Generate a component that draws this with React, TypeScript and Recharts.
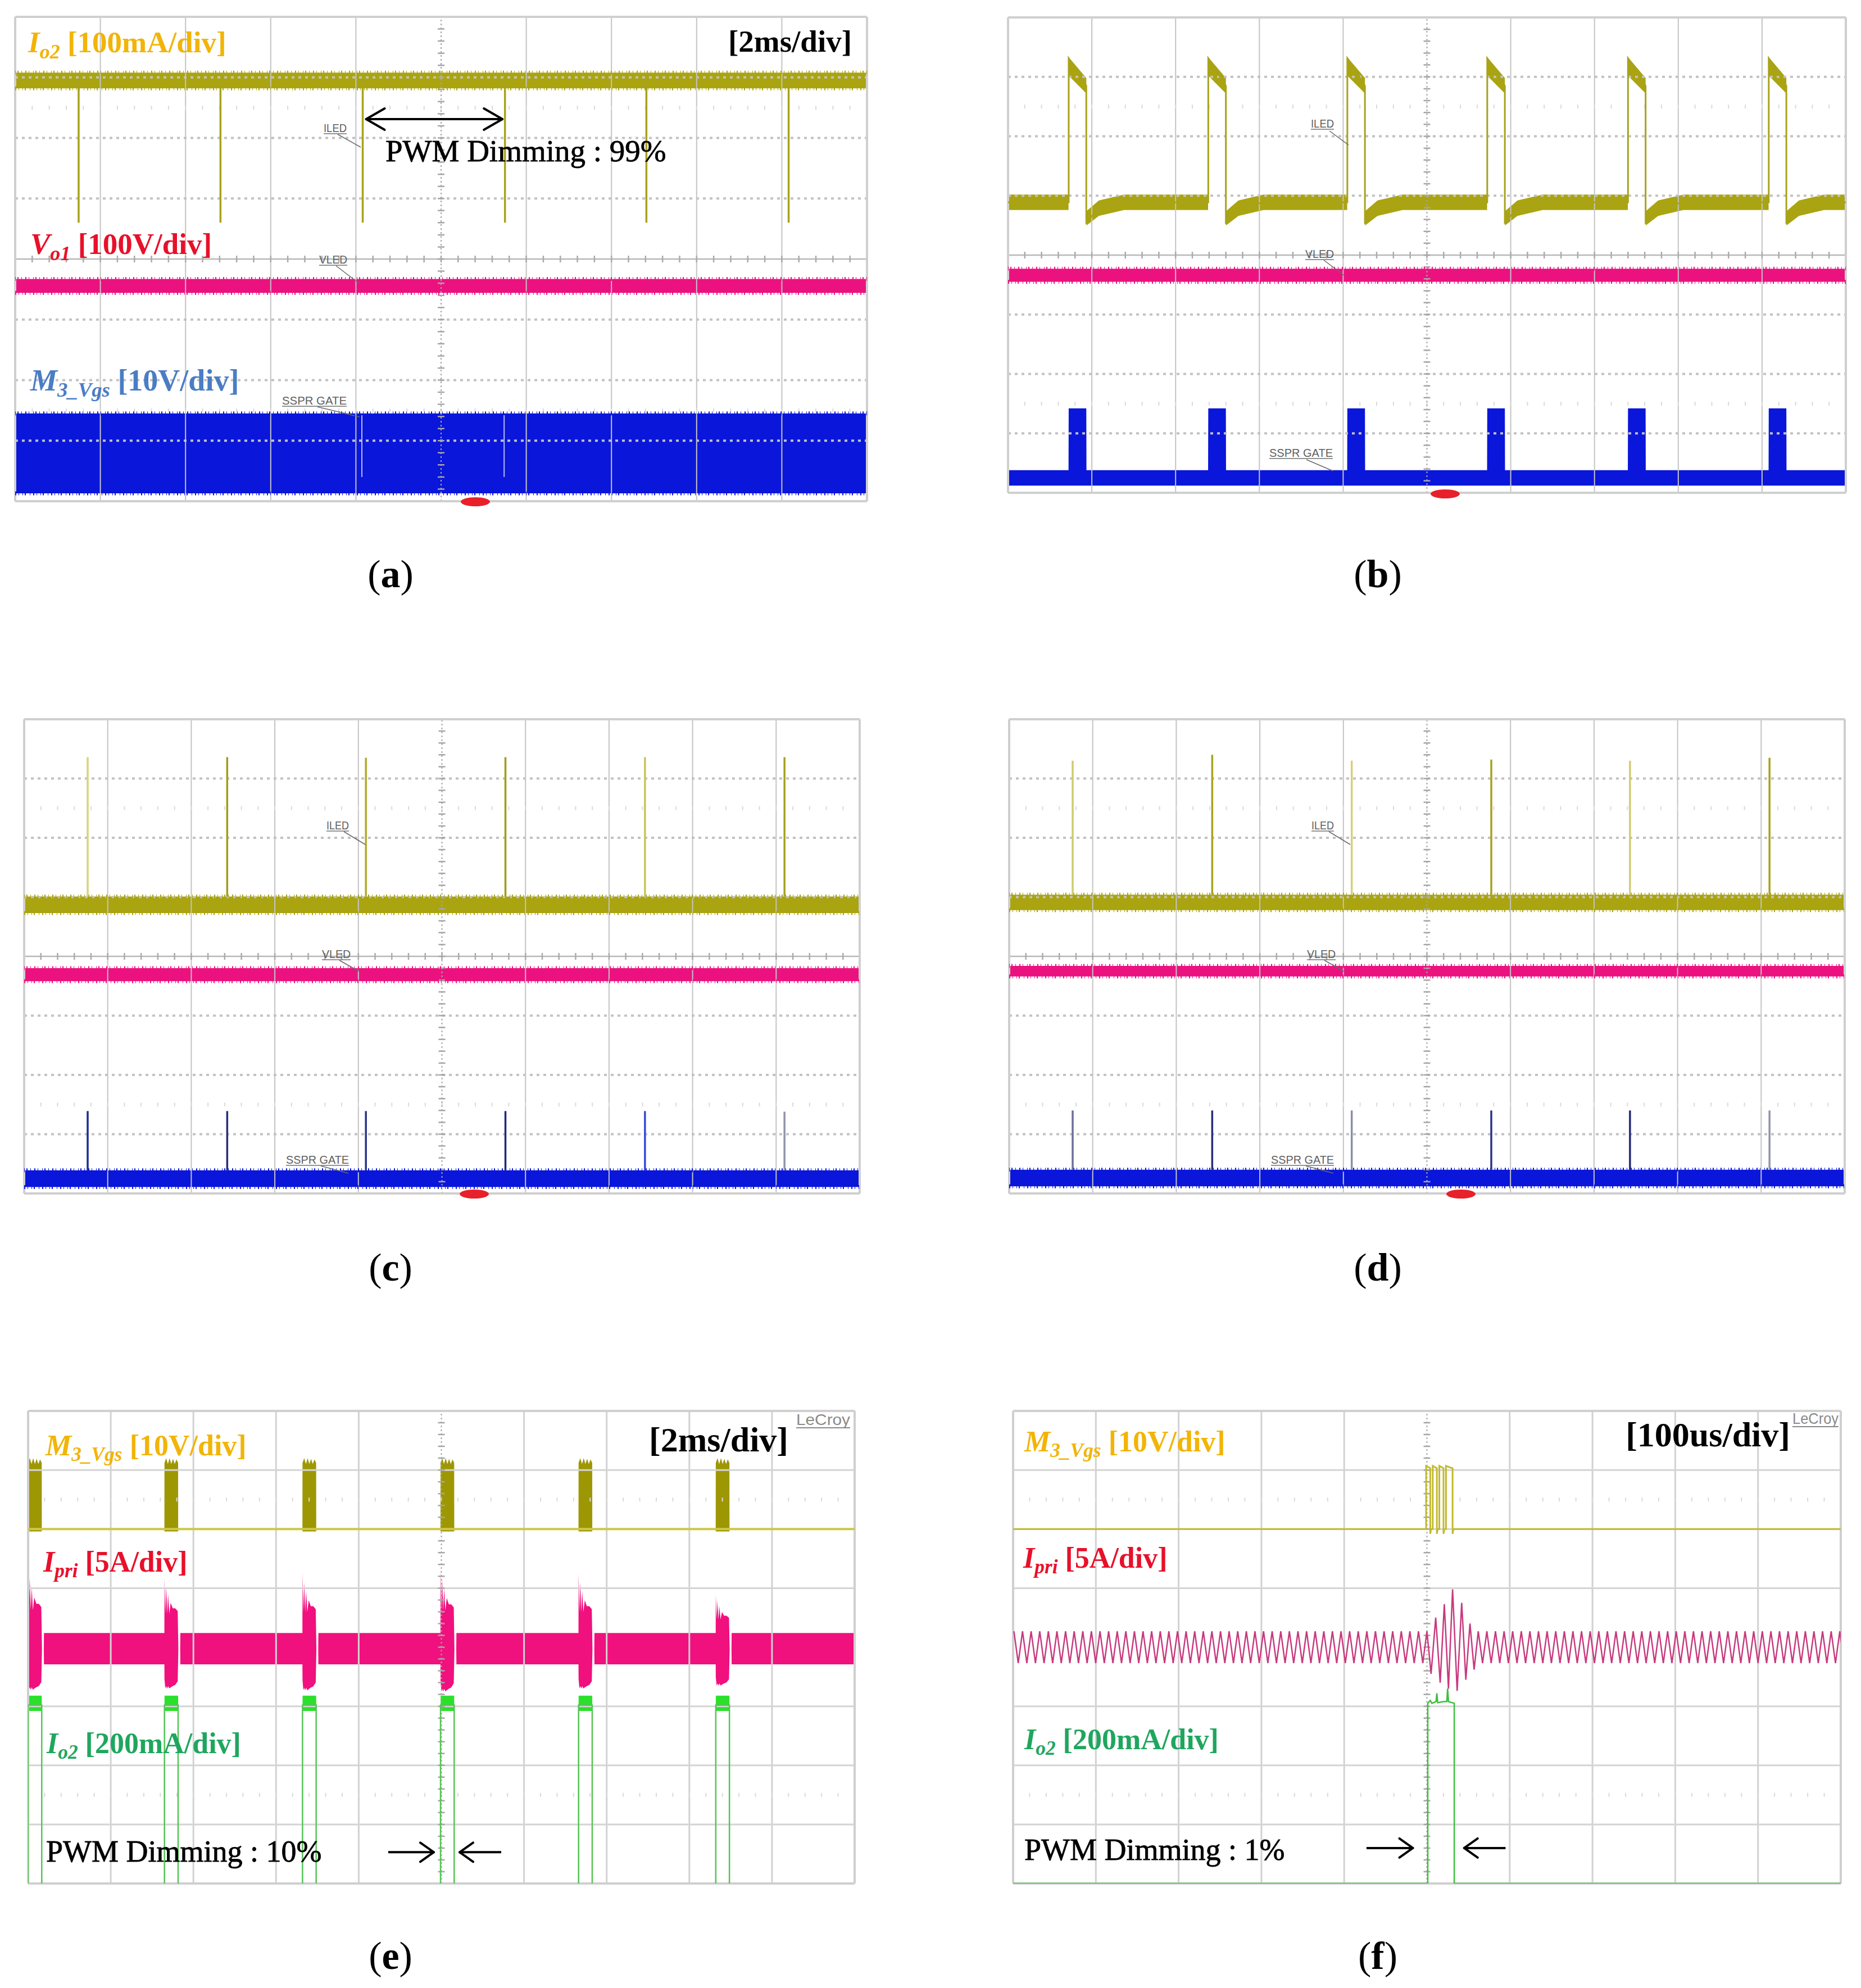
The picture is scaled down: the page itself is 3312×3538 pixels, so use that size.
import React from 'react';
import { ComposedChart, Line, Area, XAxis, YAxis, ReferenceLine } from 'recharts';

/* ============ values (x: 0..10 div, y: 0..8 div) ============ */
// (a) PWM dimming 99 %
const aSpikeX = [0.745, 2.41, 4.08, 5.75, 7.41, 9.08];
const aYellowBand = [6.82, 7.08];
const aYellowLevel = 6.95;
const aYellowSpikeTip = 4.6;
const aPinkBand = [3.44, 3.67];
const aBlueBand = [0.13, 1.45];
const aBlueMarkX = [4.07, 5.74];
const aBlueMarkSpan = [0.4, 1.42];

// (b)
const bPulseX = [0.724, 2.39, 4.05, 5.72, 7.4, 9.08];
const bPulseWidth = 0.21;
const bYellowBase = [4.76, 5.02];
const bYellowTopStart = [7.02, 7.33];
const bYellowTopEnd = [6.72, 6.98];
const bYellowUnder = [4.5, 4.74];
const bYellowRecover = [4.66, 4.92];
const bPinkBand = [3.55, 3.77];
const bBlueBase = [0.12, 0.38];
const bBlueTop = 1.42;

// (c)
const cSpikeX = [0.76, 2.43, 4.09, 5.76, 7.43, 9.1];
const cYellowBand = [4.73, 5.01];
const cYellowTip = [7.36, 7.36, 7.35, 7.36, 7.36, 7.36];
const cPinkBand = [3.58, 3.8];
const cBlueBand = [0.11, 0.39];
const cBlueTip = [1.39, 1.39, 1.39, 1.39, 1.39, 1.38];

// (d)
const dSpikeX = [0.76, 2.43, 4.1, 5.77, 7.43, 9.1];
const dYellowBand = [4.78, 5.04];
const dYellowTip = [7.3, 7.4, 7.3, 7.32, 7.3, 7.35];
const dPinkBand = [3.66, 3.84];
const dBlueBand = [0.12, 0.4];
const dBlueTip = [1.4, 1.4, 1.4, 1.4, 1.4, 1.4];

// (e) PWM dimming 10 %
const eBurstX = [0.0, 1.65, 3.32, 4.99, 6.66, 8.32];
const eBurstWidth = 0.165;
const eYellowLevel = 6.0;
const eYellowCrown = [7.12, 7.2, 7.1, 7.2, 7.1, 7.19, 7.1, 7.18, 7.12];
const ePinkBand = [3.71, 4.24];
const ePinkPeak = [5.34, 5.17, 5.25, 5.32, 5.25, 4.89];
const ePinkLow = [3.28, 3.3, 3.27, 3.25, 3.3, 3.35];
// [offset, fraction of peak above band, fraction of dip below band]
const ePinkBurstShape = [
  [0.0, 1.0, 0.6], [0.01, 0.35, 1.0], [0.02, 0.85, 0.9], [0.032, 0.35, 1.0],
  [0.044, 0.7, 0.9], [0.058, 0.35, 1.0], [0.075, 0.55, 0.95], [0.1, 0.45, 0.9],
  [0.13, 0.45, 0.85], [0.16, 0.4, 0.7],
];
const eGreenLevel = 3.02;
const eGreenBlob = [2.92, 3.18];
const eGreenLow = -0.4;

// (f) PWM dimming 1 %
const fYellowLevel = 6.0;
const fYellowHigh = 7.07;
const fYellowPulses = [[4.99, 5.04], [5.07, 5.12], [5.15, 5.2], [5.23, 5.31]];
const fPinkCenter = 4.0;
const fPinkAmp = 0.27;
const fPinkPeriod = 0.104;
const fPinkFirstPeak = 0.01;
const fPinkBurst = [
  [5.0, 4.27], [5.05, 3.55], [5.106, 4.5], [5.16, 3.4], [5.21, 4.73], [5.26, 3.3],
  [5.31, 4.98], [5.365, 3.26], [5.42, 4.75], [5.47, 3.45], [5.52, 4.4], [5.57, 3.62], [5.62, 4.27],
];
const fGreen = [
  [0, 0.0], [5.01, 0.0], [5.01, 3.05], [5.04, 3.1], [5.06, 3.05], [5.11, 3.08], [5.12, 3.22],
  [5.13, 3.06], [5.2, 3.08], [5.24, 3.08], [5.25, 3.3], [5.26, 3.08], [5.33, 3.05], [5.33, 0.0], [10, 0.0],
];

// annotation arrows (div units)
const aArrow = { from: 4.12, to: 5.72, y: 6.31, both: true };
const eArrows = [{ from: 4.357, to: 4.908, y: 0.53 }, { from: 5.724, to: 5.221, y: 0.53 }];
const fArrows = [{ from: 4.27, to: 4.83, y: 0.6 }, { from: 5.95, to: 5.45, y: 0.6 }];

/* ============ styling ============ */
const OLIVE = '#AAA410';
const OLIVE_LINE = '#A8A21C';
const PINK = '#EB1280';
const BLUE = '#0A16DA';
const GOLD = '#F2B406';
const RED = '#E8102A';
const STEEL = '#4A7DC4';
const GREEN_TXT = '#1FA65E';
const SERIF = "'Liberation Serif', 'Times New Roman', serif";
const SANS = "'Liberation Sans', Arial, sans-serif";

const boxA = { left: 27, top: 30, w: 1516, h: 862 };
const boxB = { left: 1794, top: 31, w: 1491, h: 846 };
const boxC = { left: 43, top: 1280, w: 1487, h: 844 };
const boxD = { left: 1796, top: 1280, w: 1487, h: 844 };
const boxE = { left: 50, top: 2511, w: 1471, h: 841 };
const boxF = { left: 1803, top: 2511, w: 1473, h: 841 };

/* ============ helpers ============ */
const flat = (b) => [{ x: 0, r: b }, { x: 10, r: b }];
const level = (v) => [{ x: 0, y: v }, { x: 10, y: v }];
const seg = (x, y1, y2) => [{ x, y: y1 }, { x, y: y2 }];

const band = (key, data, color) => (
  <Area key={key} data={data} dataKey="r" type="linear" stroke="none" fill={color} fillOpacity={1}
    isAnimationActive={false} dot={false} activeDot={false} />
);
const trace = (key, data, color, width, dash?) => (
  <Line key={key} data={data} dataKey="y" type="linear" stroke={color} strokeWidth={width}
    strokeDasharray={dash} dot={false} activeDot={false} isAnimationActive={false} />
);
const fuzz = (key, b, color) => [
  trace(key + 't', level(b[1]), color, 7, '1 3 2 5 1 6 2 4 1 7'),
  trace(key + 'b', level(b[0]), color, 7, '2 4 1 6 1 3 2 7 1 5'),
];

function grid(variant, box) {
  const px = box.w / 10, py = box.h / 8;
  const els = [];
  [1, 2, 3, 4, 6, 7, 8, 9].forEach((v) =>
    els.push(<ReferenceLine key={'gx' + v} x={v} stroke={variant === 'scope' ? '#C4C4C4' : '#D2D2D2'} strokeWidth={variant === 'scope' ? 2 : 3} />));
  [1, 2, 3, 5, 6, 7].forEach((v) =>
    els.push(variant === 'scope'
      ? <ReferenceLine key={'gy' + v} y={v} stroke="#C2C2C2" strokeWidth={4} strokeDasharray="5 7" />
      : <ReferenceLine key={'gy' + v} y={v} stroke="#D4D4D4" strokeWidth={3} />));
  [1.5, 6.5].forEach((v) =>
    els.push(<ReferenceLine key={'gf' + v} y={v} stroke="#DADADA" strokeWidth={7} strokeDasharray={`2 ${px * 0.2 - 2}`} strokeDashoffset={1} />));
  if (variant === 'scope') {
    els.push(<ReferenceLine key="cy" y={4} stroke="#B8B8B8" strokeWidth={2.5} />);
    els.push(<ReferenceLine key="cyt" y={4} stroke="#ABABAB" strokeWidth={12} strokeDasharray={`2.5 ${px * 0.2 - 2.5}`} strokeDashoffset={1.25} />);
  }
  els.push(<ReferenceLine key="cx" x={5} stroke="#A6A6A6" strokeWidth={2} strokeDasharray="3 4" />);
  els.push(<ReferenceLine key="cxt" x={5} stroke="#A6A6A6" strokeWidth={12} strokeDasharray={`2.5 ${py * 0.2 - 2.5}`} strokeDashoffset={1.25} />);
  [0, 10].forEach((v) => els.push(<ReferenceLine key={'fx' + v} x={v} stroke="#CFCFCF" strokeWidth={4} />));
  [0, 8].forEach((v) => els.push(<ReferenceLine key={'fy' + v} y={v} stroke="#CFCFCF" strokeWidth={4} />));
  return els;
}

function arrowEls(k, a, box, len, half) {
  const px = box.w / 10, py = box.h / 8;
  const els = [<ReferenceLine key={k} segment={[{ x: a.from, y: a.y }, { x: a.to, y: a.y }]} stroke="#000" strokeWidth={4} />];
  const heads = a.both ? [[a.to, a.from], [a.from, a.to]] : [[a.to, a.from]];
  heads.forEach(([tip, tail], i) => {
    const dir = tip > tail ? 1 : -1;
    const bx = tip - (dir * len) / px;
    els.push(<ReferenceLine key={k + 'u' + i} segment={[{ x: bx, y: a.y + half / py }, { x: tip, y: a.y }]} stroke="#000" strokeWidth={4} strokeLinecap="round" />);
    els.push(<ReferenceLine key={k + 'd' + i} segment={[{ x: bx, y: a.y - half / py }, { x: tip, y: a.y }]} stroke="#000" strokeWidth={4} strokeLinecap="round" />);
  });
  return els;
}

function Scope({ box, variant, series }) {
  const m = 4;
  return (
    <div style={{ position: 'absolute', left: box.left - m, top: box.top - m }}>
      <ComposedChart width={box.w + 2 * m} height={box.h + 2 * m} margin={{ top: m, right: m, bottom: m, left: m }}>
        <XAxis type="number" dataKey="x" domain={[0, 10]} hide allowDataOverflow />
        <YAxis type="number" domain={[0, 8]} hide allowDataOverflow />
        {grid(variant, box)}
        {series}
      </ComposedChart>
    </div>
  );
}

/* ============ series ============ */
const mid = (b) => (b[0] + b[1]) / 2;

const aSeries = [
  band('ay', flat(aYellowBand), OLIVE),
  ...fuzz('ayf', aYellowBand, OLIVE),
  ...aSpikeX.map((s, i) => trace('ays' + i, seg(s, aYellowLevel, aYellowSpikeTip), OLIVE_LINE, 3.5)),
  band('ap', flat(aPinkBand), PINK),
  ...fuzz('apf', aPinkBand, PINK),
  band('ab', flat(aBlueBand), BLUE),
  ...fuzz('abf', aBlueBand, BLUE),
  ...aBlueMarkX.map((s, i) => trace('abm' + i, seg(s, aBlueMarkSpan[0], aBlueMarkSpan[1]), '#B4BCF2', 2)),
  ...arrowEls('aar', aArrow, boxA, 33, 19),
];

const bYellowArea = [{ x: 0, r: bYellowBase }];
const bYellowEdge = [{ x: 0, y: mid(bYellowBase) }];
const bBlueArea = [{ x: 0, r: bBlueBase }];
bPulseX.forEach((s) => {
  const e = s + bPulseWidth;
  bYellowArea.push(
    { x: s - 0.002, r: bYellowBase }, { x: s, r: bYellowTopStart }, { x: e, r: bYellowTopEnd },
    { x: e + 0.002, r: bYellowUnder }, { x: e + 0.15, r: bYellowRecover }, { x: e + 0.45, r: bYellowBase });
  bYellowEdge.push(
    { x: s, y: mid(bYellowBase) }, { x: s, y: bYellowTopStart[1] - 0.02 }, { x: e, y: mid(bYellowTopEnd) },
    { x: e, y: bYellowUnder[0] + 0.05 }, { x: e + 0.15, y: mid(bYellowRecover) }, { x: e + 0.45, y: mid(bYellowBase) });
  bBlueArea.push(
    { x: s - 0.002, r: bBlueBase }, { x: s, r: [bBlueBase[0], bBlueTop] },
    { x: e, r: [bBlueBase[0], bBlueTop] }, { x: e + 0.002, r: bBlueBase });
});
bYellowArea.push({ x: 10, r: bYellowBase });
bYellowEdge.push({ x: 10, y: mid(bYellowBase) });
bBlueArea.push({ x: 10, r: bBlueBase });

const bSeries = [
  band('by', bYellowArea, OLIVE),
  trace('bye', bYellowEdge, OLIVE_LINE, 3),
  band('bp', flat(bPinkBand), PINK),
  ...fuzz('bpf', bPinkBand, PINK),
  band('bb', bBlueArea, BLUE),
];

const spikePanel = (p, xs, yb, ytip, pb, bb, btip, yellowCols, blueCols) => [
  band(p + 'y', flat(yb), OLIVE),
  ...fuzz(p + 'yf', yb, OLIVE),
  ...xs.map((s, i) => trace(p + 'ys' + i, seg(s, yb[1], ytip[i]), yellowCols[i], 3.5)),
  band(p + 'p', flat(pb), PINK),
  ...fuzz(p + 'pf', pb, PINK),
  band(p + 'b', flat(bb), BLUE),
  ...fuzz(p + 'bf', bb, BLUE),
  ...xs.map((s, i) => trace(p + 'bs' + i, seg(s, bb[1], btip[i]), blueCols[i], 3.5)),
];
const cSeries = spikePanel('c', cSpikeX, cYellowBand, cYellowTip, cPinkBand, cBlueBand, cBlueTip,
  ['#D6D478', '#A39D18', '#B2AC2A', '#A39D18', '#C8C45A', '#A8A220'],
  ['#1C2C90', '#2A2F78', '#2B3488', '#23297A', '#3A48D8', '#9094AC']);
const dSeries = spikePanel('d', dSpikeX, dYellowBand, dYellowTip, dPinkBand, dBlueBand, dBlueTip,
  ['#CFCC70', '#A8A220', '#D4D27A', '#A8A220', '#D0CD74', '#A8A220'],
  ['#6C7098', '#2A2F78', '#8A8EAA', '#2B3488', '#23297A', '#9094AC']);

// (e)
const eYellowArea = [];
const ePinkArea = [{ x: 0, r: ePinkBand }];
const eGreenEdge = [{ x: 0, y: eGreenLow }];
const eGreenArea = [];
eBurstX.forEach((s, i) => {
  const w = eBurstWidth;
  eYellowArea.push({ x: s - 0.001, r: [eYellowLevel, eYellowLevel] });
  eYellowCrown.forEach((c, j) => eYellowArea.push({ x: s + (w * j) / (eYellowCrown.length - 1), r: [eYellowLevel - 0.04, c] }));
  eYellowArea.push({ x: s + w + 0.001, r: [eYellowLevel, eYellowLevel] });

  const pk = ePinkPeak[i], lo = ePinkLow[i];
  ePinkArea.push({ x: s - 0.001, r: ePinkBand });
  ePinkBurstShape.forEach(([dx, ft, fb]) =>
    ePinkArea.push({ x: s + dx, r: [ePinkBand[0] - fb * (ePinkBand[0] - lo), ePinkBand[1] + ft * (pk - ePinkBand[1])] }));
  ePinkArea.push({ x: s + 0.168, r: [3.97, 3.97] }, { x: s + 0.19, r: [3.97, 3.97] }, { x: s + 0.192, r: ePinkBand });

  eGreenEdge.push({ x: s, y: eGreenLow }, { x: s, y: eGreenLevel }, { x: s + w, y: eGreenLevel }, { x: s + w, y: eGreenLow });
  eGreenArea.push({ x: s, r: [eGreenLevel, eGreenLevel] }, { x: s + 0.001, r: eGreenBlob },
    { x: s + w, r: eGreenBlob }, { x: s + w + 0.001, r: [eGreenLevel, eGreenLevel] });
});
ePinkArea.push({ x: 10, r: ePinkBand });
eGreenEdge.push({ x: 10, y: eGreenLow });

const eSeries = [
  trace('eyl', level(eYellowLevel), '#CEC746', 4),
  band('eya', eYellowArea, '#9E9704'),
  band('epa', ePinkArea, '#F0107E'),
  trace('ege', eGreenEdge, '#55C455', 2.5),
  band('ega', eGreenArea, '#2BE02B'),
  ...eArrows.flatMap((a, i) => arrowEls('ear' + i, a, boxE, 24, 17)),
];

// (f)
const fYellow = [{ x: 0, y: fYellowLevel }];
fYellowPulses.forEach(([a, b]) => {
  fYellow.push({ x: a, y: fYellowLevel }, { x: a, y: fYellowHigh }, { x: b, y: fYellowHigh - 0.04 },
    { x: b, y: fYellowLevel - 0.08 }, { x: b + 0.01, y: fYellowLevel });
});
fYellow.push({ x: 10, y: fYellowLevel });

const fPink = [];
const burstStart = fPinkBurst[0][0], burstEnd = fPinkBurst[fPinkBurst.length - 1][0];
for (let k = 0; ; k++) {
  const x = fPinkFirstPeak + (k * fPinkPeriod) / 2;
  if (x >= burstStart - 0.01) break;
  fPink.push({ x, y: fPinkCenter + (k % 2 === 0 ? fPinkAmp : -fPinkAmp) });
}
fPinkBurst.forEach(([x, y]) => fPink.push({ x, y }));
for (let k = 1; ; k++) {
  const x = burstEnd + (k * fPinkPeriod) / 2;
  if (x > 10.05) break;
  fPink.push({ x, y: fPinkCenter + (k % 2 === 0 ? fPinkAmp : -fPinkAmp) });
}

const fSeries = [
  trace('fy', fYellow, '#C2BA30', 3),
  trace('fp', fPink, '#C83A7E', 2.5),
  trace('fg', fGreen.map(([x, y]) => ({ x, y })), '#3CC03C', 2.5),
  ...fArrows.flatMap((a, i) => arrowEls('far' + i, a, boxF, 24, 17)),
];

/* ============ text ============ */
const chanLabels = [
  { x: 50, y: 93, main: 'I', sub: 'o2', rest: '[100mA/div]', color: GOLD, size: 53 },
  { x: 54, y: 452, main: 'V', sub: 'o1', rest: '[100V/div]', color: RED, size: 53 },
  { x: 54, y: 695, main: 'M', sub: '3_Vgs', rest: '[10V/div]', color: STEEL, size: 54 },
  { x: 81, y: 2590, main: 'M', sub: '3_Vgs', rest: '[10V/div]', color: GOLD, size: 52 },
  { x: 77, y: 2797, main: 'I', sub: 'pri', rest: '[5A/div]', color: RED, size: 52 },
  { x: 83, y: 3120, main: 'I', sub: 'o2', rest: '[200mA/div]', color: GREEN_TXT, size: 52 },
  { x: 1823, y: 2583, main: 'M', sub: '3_Vgs', rest: '[10V/div]', color: GOLD, size: 52 },
  { x: 1821, y: 2790, main: 'I', sub: 'pri', rest: '[5A/div]', color: RED, size: 52 },
  { x: 1823, y: 3113, main: 'I', sub: 'o2', rest: '[200mA/div]', color: GREEN_TXT, size: 52 },
];
const plainTexts = [
  { x: 1516, y: 92, text: '[2ms/div]', size: 55, anchor: 'end', bold: true },
  { x: 1403, y: 2583, text: '[2ms/div]', size: 62, anchor: 'end', bold: true },
  { x: 3186, y: 2574, text: '[100us/div]', size: 62, anchor: 'end', bold: true },
  { x: 686, y: 287, text: 'PWM Dimming : 99%', size: 55, anchor: 'start', bold: false },
  { x: 82, y: 3313, text: 'PWM Dimming : 10%', size: 54, anchor: 'start', bold: false },
  { x: 1823, y: 3310, text: 'PWM Dimming : 1%', size: 54, anchor: 'start', bold: false },
];
const captions = [
  { x: 695, y: 1045, t: 'a' }, { x: 2452, y: 1045, t: 'b' },
  { x: 695, y: 2279, t: 'c' }, { x: 2452, y: 2279, t: 'd' },
  { x: 695, y: 3504, t: 'e' }, { x: 2452, y: 3504, t: 'f' },
];
const tags = [
  { x: 576, y: 235, w: 41, t: 'ILED', l: [601, 239, 642, 262] },
  { x: 568, y: 469, w: 50, t: 'VLED', l: [598, 473, 640, 505] },
  { x: 502, y: 720, w: 115, t: 'SSPR GATE', l: [565, 724, 640, 742] },
  { x: 2333, y: 227, w: 41, t: 'ILED', l: [2366, 233, 2400, 258] },
  { x: 2323, y: 459, w: 51, t: 'VLED', l: [2356, 463, 2392, 490] },
  { x: 2259, y: 813, w: 113, t: 'SSPR GATE', l: [2325, 818, 2372, 838] },
  { x: 581, y: 1476, w: 40, t: 'ILED', l: [612, 1480, 650, 1503] },
  { x: 573, y: 1705, w: 51, t: 'VLED', l: [604, 1709, 641, 1730] },
  { x: 509, y: 2071, w: 112, t: 'SSPR GATE', l: [571, 2075, 620, 2088] },
  { x: 2334, y: 1476, w: 40, t: 'ILED', l: [2365, 1480, 2403, 1503] },
  { x: 2326, y: 1705, w: 51, t: 'VLED', l: [2357, 1709, 2394, 1730] },
  { x: 2262, y: 2071, w: 112, t: 'SSPR GATE', l: [2324, 2075, 2373, 2088] },
];
const lecroy = [{ x: 1417, y: 2536, w: 96 }, { x: 3190, y: 2534, w: 82 }];
const trigMarks = [{ x: 846, y: 893 }, { x: 2572, y: 879 }, { x: 844, y: 2125 }, { x: 2600, y: 2125 }];

function Overlay() {
  return (
    <svg width={3312} height={3538} style={{ position: 'absolute', left: 0, top: 0, pointerEvents: 'none' }}>
      {trigMarks.map((m, i) => <ellipse key={'tm' + i} cx={m.x} cy={m.y} rx={26} ry={8} fill="#E8202A" />)}
      {tags.map((g, i) => (
        <g key={'tg' + i}>
          <text x={g.x} y={g.y} fontFamily={SANS} fontSize={20} fill="#606060" textLength={g.w} lengthAdjust="spacingAndGlyphs">{g.t}</text>
          <line x1={g.x} y1={g.y + 3} x2={g.x + g.w} y2={g.y + 3} stroke="#707070" strokeWidth={1.5} />
          <line x1={g.l[0]} y1={g.l[1]} x2={g.l[2]} y2={g.l[3]} stroke="#6A6A6A" strokeWidth={1.5} />
        </g>
      ))}
      {lecroy.map((p, i) => (
        <g key={'lc' + i}>
          <text x={p.x} y={p.y} fontFamily={SANS} fontSize={28} fill="#8A8A8A" textLength={p.w} lengthAdjust="spacingAndGlyphs">LeCroy</text>
          <line x1={p.x} y1={p.y + 5} x2={p.x + p.w} y2={p.y + 5} stroke="#8A8A8A" strokeWidth={2} />
        </g>
      ))}
      {chanLabels.map((c, i) => (
        <text key={'cl' + i} x={c.x} y={c.y} fill={c.color} fontFamily={SERIF} fontSize={c.size} fontWeight="bold">
          <tspan fontStyle="italic">{c.main}</tspan>
          <tspan fontStyle="italic" fontSize={c.size * 0.68} dy={c.size * 0.2}>{c.sub}</tspan>
          <tspan dy={-c.size * 0.2}>{'\u00A0' + c.rest}</tspan>
        </text>
      ))}
      {plainTexts.map((t, i) => (
        <text key={'pt' + i} x={t.x} y={t.y} fill="#000" fontFamily={SERIF} fontSize={t.size} textAnchor={t.anchor}
          fontWeight={t.bold ? 'bold' : 'normal'} stroke={t.bold ? 'none' : '#000'} strokeWidth={t.bold ? 0 : 0.8}>{t.text}</text>
      ))}
      {captions.map((c, i) => (
        <text key={'cp' + i} x={c.x} y={c.y} fill="#000" fontFamily={SERIF} fontSize={70} textAnchor="middle">
          (<tspan fontWeight="bold">{c.t}</tspan>)
        </text>
      ))}
    </svg>
  );
}

export default function App() {
  return (
    <div style={{ position: 'absolute', left: 0, top: 0, width: 3312, height: 3538, background: '#fff', overflow: 'hidden' }}>
      <Scope box={boxA} variant="scope" series={aSeries} />
      <Scope box={boxB} variant="scope" series={bSeries} />
      <Scope box={boxC} variant="scope" series={cSeries} />
      <Scope box={boxD} variant="scope" series={dSeries} />
      <Scope box={boxE} variant="lecroy" series={eSeries} />
      <Scope box={boxF} variant="lecroy" series={fSeries} />
      <Overlay />
    </div>
  );
}
